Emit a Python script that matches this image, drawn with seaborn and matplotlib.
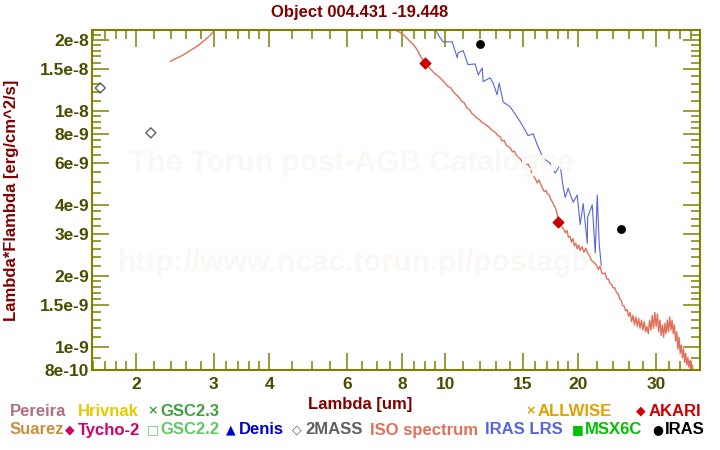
import numpy as np
import pandas as pd
import matplotlib
matplotlib.use("Agg")
import matplotlib.pyplot as plt
from matplotlib.ticker import FixedLocator, FixedFormatter, NullFormatter
import seaborn as sns

# ---------------- data ----------------
title = "Object 004.431 -19.448"

# ISO spectrum, segment 1 (short wavelengths)
iso1_lam = [2.39, 2.45, 2.50, 2.55, 2.60, 2.65, 2.70, 2.75, 2.80, 2.85, 2.90, 2.95,
            3.00, 3.05, 3.50, 4.50, 6.00, 7.00, 7.40]
iso1_flux = [1.62e-8, 1.66e-8, 1.69e-8, 1.72e-8, 1.76e-8, 1.80e-8, 1.84e-8, 1.88e-8,
             1.93e-8, 1.98e-8, 2.04e-8, 2.10e-8, 2.18e-8, 2.26e-8, 2.8e-8, 3.3e-8,
             3.2e-8, 2.6e-8, 2.35e-8]

# ISO spectrum, segment 2 (units of 1e-9)
iso2_lam = [7.60, 7.75, 7.90, 8.05, 8.20, 8.35, 8.50, 8.65, 8.80, 8.95, 9.10, 9.25, 9.40,
            9.55, 9.70, 9.85, 10.00, 10.15, 10.30, 10.45, 10.60, 10.75, 10.90, 11.05,
            11.20, 11.35, 11.50, 11.65, 11.80, 11.95, 12.10, 12.25, 12.40, 12.55, 12.70,
            12.85, 13.00, 13.15, 13.30, 13.45, 13.60, 13.75, 13.90, 14.05, 14.20, 14.35,
            14.50, 14.65, 14.80, 14.95, 15.10, 15.25, 15.40, 15.55, 15.70, 15.85, 16.00,
            16.15, 16.30, 16.45, 16.60, 16.75, 16.90, 17.05, 17.20, 17.35, 17.50, 17.65,
            17.80, 17.95, 18.10, 18.25, 18.40, 18.55, 18.70, 18.85, 19.00, 19.15, 19.30,
            19.45, 19.60, 19.75, 19.90, 20.05, 20.20, 20.40, 20.60, 20.80, 21.00, 21.20,
            21.40, 21.60, 21.80, 22.00, 22.20, 22.40, 22.60, 22.80, 23.00, 23.20, 23.40,
            23.60, 23.80, 24.00, 24.20, 24.40, 24.60, 24.80, 25.00, 25.20, 25.40, 25.60,
            25.80, 26.00, 26.20, 26.40, 26.60, 26.80, 27.00, 27.20, 27.40, 27.60, 27.80,
            28.00, 28.20, 28.40, 28.60, 28.80, 29.00, 29.20, 29.40, 29.60, 29.80, 30.00,
            30.20, 30.40, 30.60, 30.80, 31.00, 31.20, 31.40, 31.60, 31.80, 32.00, 32.20,
            32.40, 32.60, 32.80, 33.00, 33.20, 33.40, 33.60, 33.80, 34.00, 34.20, 34.40,
            34.60, 34.80, 35.00, 35.20, 35.40, 35.60, 35.80, 36.00, 36.20, 36.40, 36.60,
            36.80, 37.00]
iso2_flux_e9 = [22.2, 21.9, 21.5, 21.0, 20.3, 19.6, 19.0, 18.1, 17.0, 16.3, 15.6, 15.1, 14.6,
                14.2, 13.9, 13.5, 13.1, 12.7, 12.5, 12.0, 11.7, 11.4, 11.0, 10.8,
                10.3, 10.1, 9.75, 9.55, 9.30, 9.20, 8.95, 8.85, 8.70, 8.55, 8.35,
                8.20, 8.10, 7.85, 7.80, 7.45, 7.50, 7.15, 7.05, 6.95, 6.70, 6.75,
                6.45, 6.35, 6.25, 6.05, 6.10, 5.90, 5.95, 5.75, 5.45, 5.30, 5.15,
                4.95, 5.10, 4.90, 4.70, 4.55, 4.60, 4.45, 4.40, 4.20, 4.10, 3.95,
                3.85, 3.60, 3.40, 3.35, 3.20, 3.15, 3.05, 3.12, 2.92, 2.94, 2.78,
                2.88, 2.68, 2.75, 2.60, 2.70, 2.56, 2.66, 2.52, 2.62, 2.50, 2.44,
                2.33, 2.30, 2.26, 2.22, 2.13, 2.20, 2.06, 2.04, 2.06, 1.94, 1.94,
                1.86, 1.84, 1.78, 1.78, 1.70, 1.69, 1.60, 1.58, 1.50, 1.49, 1.42,
                1.44, 1.35, 1.40, 1.28, 1.36, 1.24, 1.34, 1.22, 1.32, 1.20, 1.30,
                1.18, 1.28, 1.16, 1.22, 1.14, 1.30, 1.18, 1.36, 1.20, 1.40, 1.22,
                1.38, 1.16, 1.30, 1.12, 1.24, 1.10, 1.26, 1.14, 1.30, 1.16, 1.34,
                1.18, 1.30, 1.14, 1.24, 1.06, 1.16, 0.98, 1.10, 0.94, 1.02, 0.90,
                0.98, 0.86, 0.94, 0.84, 0.90, 0.82, 0.88, 0.80, 0.84, 0.78, 0.80,
                0.76, 0.74]

# IRAS LRS spectrum (units of 1e-9)
lrs_lam = [9.40, 9.49, 9.74, 9.90, 10.37, 10.65, 10.70, 10.98, 11.27, 11.69, 11.88, 12.13,
           12.19, 12.64, 12.84, 13.11, 13.25, 13.53, 14.03, 14.78, 15.41, 15.81, 16.15,
           16.66, 17.28, 17.74, 18.20, 18.49, 18.69, 18.98, 19.48, 19.89, 20.20, 20.52,
           20.96, 21.00, 21.51, 21.85, 22.08, 22.30, 22.54]
lrs_flux_e9 = [23.0, 22.2, 20.4, 19.6, 19.6, 16.8, 17.6, 18.0, 15.7, 15.8, 14.2, 15.2,
               13.3, 13.8, 13.1, 11.7, 13.1, 10.9, 10.4, 9.0, 7.85, 8.0, 7.2,
               6.3, 6.0, 5.45, 5.9, 4.75, 4.3, 4.7, 4.1, 4.4, 3.3, 4.05,
               2.75, 3.55, 4.0, 2.5, 4.4, 2.75, 2.22]

# photometry
mass_lam = [1.66, 2.16]
mass_flux = [1.25e-8, 8.07e-9]
akari_lam = [9.0, 18.0]
akari_flux = [1.60e-8, 3.38e-9]
iras_lam = [12.0, 25.0]
iras_flux = [1.92e-8, 3.16e-9]

xticks = [2, 3, 4, 6, 8, 10, 15, 20, 30]
xtick_labels = ["2", "3", "4", "6", "8", "10", "15", "20", "30"]
xminor = [1.6, 1.7, 1.8, 1.9, 2.2, 2.4, 2.6, 2.8, 3.2, 3.4, 3.6, 3.8, 4.5, 5, 5.5,
          6.5, 7, 7.5, 8.5, 9, 9.5, 11, 12, 13, 14, 16, 17, 18, 19, 22, 24, 26, 28,
          32, 34, 36]
yticks = [8e-10, 1e-9, 1.5e-9, 2e-9, 3e-9, 4e-9, 6e-9, 8e-9, 1e-8, 1.5e-8, 2e-8]
ytick_labels = ["8e-10", "1e-9", "1.5e-9", "2e-9", "3e-9", "4e-9", "6e-9", "8e-9",
                "1e-8", "1.5e-8", "2e-8"]
yminor = [9e-10, 1.1e-9, 1.2e-9, 1.3e-9, 1.4e-9, 1.6e-9, 1.7e-9, 1.8e-9, 1.9e-9,
          2.2e-9, 2.4e-9, 2.6e-9, 2.8e-9, 3.25e-9, 3.5e-9, 3.75e-9, 4.5e-9, 5e-9,
          5.5e-9, 6.5e-9, 7e-9, 7.5e-9, 8.5e-9, 9e-9, 9.5e-9, 1.1e-8, 1.2e-8, 1.3e-8,
          1.4e-8, 1.6e-8, 1.7e-8, 1.8e-8, 1.9e-8, 2.1e-8]

# legend rows: (text, color, marker glyph, left pixel)
legend_row1 = [("Pereira", "#b07080", None, 10), ("Hrivnak", "#e8c800", None, 78),
               ("GSC2.3", "#40a040", "\u00d7", 147), ("ALLWISE", "#e0a000", "\u00d7", 525),
               ("AKARI", "#d00000", "\u25c6", 636)]
legend_row2 = [("Suarez", "#c8903c", None, 10), ("Tycho-2", "#d0006a", "\u25c6", 65),
               ("GSC2.2", "#60c860", "\u25a1", 147), ("Denis", "#0000c8", "\u25b2", 226),
               ("2MASS", "#606060", "\u25c7", 292), ("ISO spectrum", "#e0705a", None, 370),
               ("IRAS LRS", "#5566d8", None, 485), ("MSX6C", "#00c000", "\u25a0", 572),
               ("IRAS", "#000000", "\u25cf", 652)]

# ---------------- plotting ----------------
sns.set_theme(style="white")
plt.rcParams["font.family"] = ["Liberation Sans", "DejaVu Sans"]
plt.rcParams["font.weight"] = "bold"

W, H = 720, 450
fig = plt.figure(figsize=(7.2, 4.5), dpi=100)
fig.patch.set_facecolor("white")
ax = fig.add_axes([92 / W, 1 - 370 / H, (700 - 92) / W, (370 - 30) / H])
ax.patch.set_alpha(0)

olive = "#808000"
ticklab = "#4c4c00"
darkred = "#800000"
wm = "#faf7f4"

# watermark
fig.text(351 / W, 1 - 163 / H, "The Torun post-AGB Catalogue", fontsize=21.5,
         fontweight="bold", color=wm, ha="center", va="center", zorder=0.5)
fig.text(354 / W, 1 - 263 / H, "http://www.ncac.torun.pl/postagb", fontsize=21.5,
         fontweight="bold", color=wm, ha="center", va="center", zorder=0.5)

iso_df = pd.DataFrame({
    "lam": iso1_lam + iso2_lam,
    "flux": iso1_flux + [v * 1e-9 for v in iso2_flux_e9],
    "seg": [1] * len(iso1_lam) + [2] * len(iso2_lam),
})
lrs_df = pd.DataFrame({"lam": lrs_lam, "flux": [v * 1e-9 for v in lrs_flux_e9]})

sns.lineplot(data=iso_df, x="lam", y="flux", units="seg", estimator=None, sort=False,
             color="#e0705a", lw=1.0, ax=ax, legend=False)
sns.lineplot(data=lrs_df, x="lam", y="flux", estimator=None, sort=False,
             color="#5566d8", lw=0.8, ax=ax, legend=False)
sns.scatterplot(x=mass_lam, y=mass_flux, marker="D", s=26, facecolor="none",
                edgecolor="#606060", linewidth=1.0, ax=ax, zorder=5)
sns.scatterplot(x=akari_lam, y=akari_flux, marker="D", s=34, color="#cc0000",
                edgecolor="#cc0000", linewidth=0.5, ax=ax, zorder=5)
sns.scatterplot(x=iras_lam, y=iras_flux, marker="o", s=34, color="black",
                edgecolor="black", linewidth=0.5, ax=ax, zorder=5)

ax.set_xscale("log")
ax.set_yscale("log")
ax.set_xlim(1.59, 37.7)
ax.set_ylim(7.99e-10, 2.2e-8)
ax.set_xlabel("")
ax.set_ylabel("")

ax.xaxis.set_major_locator(FixedLocator(xticks))
ax.xaxis.set_major_formatter(FixedFormatter(xtick_labels))
ax.xaxis.set_minor_locator(FixedLocator(xminor))
ax.xaxis.set_minor_formatter(NullFormatter())
ax.yaxis.set_major_locator(FixedLocator(yticks))
ax.yaxis.set_major_formatter(FixedFormatter(ytick_labels))
ax.yaxis.set_minor_locator(FixedLocator(yminor))
ax.yaxis.set_minor_formatter(NullFormatter())

ax.tick_params(which="both", direction="in", top=True, right=True, bottom=True,
               left=True, color=olive, width=1.1)
ax.tick_params(which="major", length=12.5)
ax.tick_params(which="minor", length=6.5)
ax.tick_params(axis="x", which="major", pad=5, labelsize=12.5, labelcolor=ticklab)
ax.tick_params(axis="y", which="major", pad=2, labelsize=12.5, labelcolor=ticklab)
for lab in ax.get_xticklabels() + ax.get_yticklabels():
    lab.set_fontweight("bold")
for sp in ax.spines.values():
    sp.set_color(olive)
    sp.set_linewidth(1.5)
    sp.set_visible(True)

# titles and labels
fig.text(0.5, 1 - 12 / H, title, fontsize=12, fontweight="bold", color=darkred,
         ha="center", va="center")
fig.text(360 / W, 1 - 404 / H, "Lambda [um]", fontsize=12, fontweight="bold",
         color=darkred, ha="center", va="center")
fig.text(12 / W, 1 - 200 / H, "Lambda*Flambda [erg/cm^2/s]", fontsize=12,
         fontweight="bold", color=darkred, ha="center", va="center", rotation=90)

# legend rows
def draw_row(items, ypix):
    for text, col, glyph, xpix in items:
        x0 = xpix
        if glyph is not None:
            fig.text(x0 / W, 1 - ypix / H, glyph, fontsize=9, color=col,
                     family=["DejaVu Sans"], ha="left", va="center")
            x0 = xpix + 13
        fig.text(x0 / W, 1 - ypix / H, text, fontsize=12, fontweight="bold",
                 color=col, ha="left", va="center")

draw_row(legend_row1, 411)
draw_row(legend_row2, 430)

fig.savefig("out.png", dpi=100, facecolor="white")
